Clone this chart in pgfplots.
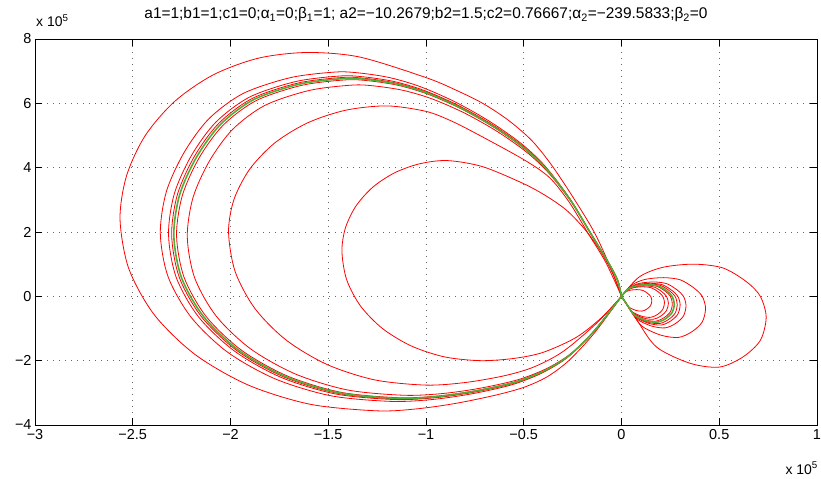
\documentclass[border=0pt]{standalone}
\usepackage{pgfplots}
\pgfplotsset{compat=1.18}
\usepackage{fontspec}
\setmainfont{Liberation Sans}
\definecolor{mred}{rgb}{1,0,0}
\definecolor{mgreen}{rgb}{0.30,0.69,0.22}
\begin{document}
\begin{tikzpicture}
\begin{axis}[name=ax, scale only axis, width=782bp, height=386bp,
  xmin=-3, xmax=1, ymin=-4, ymax=8,
  xtick={-3,-2.5,-2,-1.5,-1,-0.5,0,0.5,1},
  xticklabels={−3,−2.5,−2,−1.5,−1,−0.5,0,0.5,1},
  ytick={-4,-2,0,2,4,6,8},
  yticklabels={−4,−2,0,2,4,6,8},
  scaled ticks=false,
  tick align=inside, major tick length=7bp,
  tick style={black, line width=0.6bp},
  axis line style={black, line width=0.7bp},
  grid=major,
  grid style={black!60, line width=0.6bp, dash pattern=on 0.8bp off 5.2bp},
  ticklabel style={font=\fontsize{14.5}{16}\selectfont},
  xticklabel style={yshift=-1bp},
  every axis plot/.append style={smooth},
  clip=true]
% ---- left loops (red)
% A (outermost)
\addplot[mred, line width=0.8pt] coordinates {(0,0) (-0.06,0.95) (-0.14,2.0) (-0.25,3.1) (-0.36,4.1) (-0.46,4.85) (-0.58,5.48) (-0.71,6.0) (-0.85,6.42) (-1.0,6.8) (-1.34,7.44) (-1.61,7.58) (-1.857,7.404) (-2.088,6.886) (-2.285,6.063) (-2.437,4.99) (-2.532,3.741) (-2.565,2.4) (-2.52,0.857) (-2.389,-0.58) (-2.18,-1.814) (-1.908,-2.761) (-1.591,-3.357) (-1.25,-3.56) (-1.05,-3.5) (-0.85,-3.33) (-0.65,-3.08) (-0.5,-2.83) (-0.38,-2.5) (-0.27,-2.0) (-0.14,-1.15) (0,0)};
% B
\addplot[mred, line width=0.8pt] coordinates {(0,0) (-0.021,0.515) (-0.072,1.112) (-0.165,2.039) (-0.268,3.069) (-0.391,4.048) (-0.515,4.759) (-0.68,5.459) (-0.855,6.056) (-1.03,6.52) (-1.185,6.798) (-1.339,6.942) (-1.463,6.973) (-1.694,6.798) (-1.936,6.304) (-2.112,5.511) (-2.238,4.465) (-2.328,3.255) (-2.359,1.957) (-2.319,0.605) (-2.201,-0.654) (-2.015,-1.736) (-1.772,-2.565) (-1.488,-3.09) (-1.185,-3.265) (-0.979,-3.214) (-0.773,-3.039) (-0.567,-2.76) (-0.412,-2.4) (-0.278,-1.906) (-0.144,-1.112) (0,0)};
% bundle
\addplot[mred, line width=0.8pt] coordinates {(0,0) (-0.02,0.506) (-0.071,1.093) (-0.162,2.004) (-0.263,3.016) (-0.385,3.977) (-0.506,4.675) (-0.668,5.364) (-0.84,5.951) (-1.012,6.406) (-1.164,6.679) (-1.316,6.821) (-1.437,6.851) (-1.665,6.679) (-1.903,6.193) (-2.075,5.414) (-2.199,4.387) (-2.287,3.198) (-2.317,1.923) (-2.278,0.594) (-2.163,-0.643) (-1.979,-1.705) (-1.741,-2.52) (-1.462,-3.036) (-1.164,-3.208) (-0.961,-3.157) (-0.759,-2.985) (-0.557,-2.712) (-0.405,-2.358) (-0.273,-1.872) (-0.142,-1.093) (0,0)};
\addplot[mred, line width=0.8pt] coordinates {(0,0) (-0.02,0.503) (-0.07,1.085) (-0.161,1.99) (-0.261,2.995) (-0.382,3.95) (-0.503,4.643) (-0.663,5.327) (-0.834,5.909) (-1.005,6.362) (-1.156,6.633) (-1.307,6.774) (-1.427,6.804) (-1.653,6.633) (-1.889,6.151) (-2.06,5.377) (-2.184,4.357) (-2.271,3.176) (-2.301,1.91) (-2.262,0.59) (-2.148,-0.638) (-1.966,-1.693) (-1.729,-2.502) (-1.452,-3.015) (-1.156,-3.186) (-0.955,-3.136) (-0.754,-2.965) (-0.553,-2.693) (-0.402,-2.342) (-0.271,-1.859) (-0.141,-1.085) (0,0)};
\addplot[mred, line width=0.8pt] coordinates {(0,0) (-0.02,0.497) (-0.07,1.074) (-0.159,1.968) (-0.258,2.962) (-0.378,3.906) (-0.497,4.592) (-0.656,5.268) (-0.825,5.845) (-0.994,6.292) (-1.143,6.56) (-1.292,6.7) (-1.411,6.729) (-1.635,6.56) (-1.869,6.083) (-2.038,5.318) (-2.16,4.309) (-2.246,3.141) (-2.276,1.889) (-2.237,0.583) (-2.124,-0.631) (-1.944,-1.675) (-1.71,-2.475) (-1.436,-2.982) (-1.143,-3.151) (-0.944,-3.101) (-0.746,-2.932) (-0.547,-2.664) (-0.398,-2.316) (-0.268,-1.839) (-0.139,-1.074) (0,0)};
% D
\addplot[mred, line width=0.8pt] coordinates {(0,0) (-0.019,0.485) (-0.068,1.048) (-0.155,1.921) (-0.252,2.891) (-0.369,3.812) (-0.485,4.481) (-0.64,5.141) (-0.805,5.704) (-0.97,6.14) (-1.116,6.402) (-1.261,6.538) (-1.377,6.567) (-1.596,6.402) (-1.824,5.936) (-1.989,5.19) (-2.108,4.205) (-2.192,3.065) (-2.221,1.843) (-2.183,0.569) (-2.073,-0.616) (-1.897,-1.634) (-1.668,-2.415) (-1.402,-2.91) (-1.116,-3.075) (-0.922,-3.026) (-0.728,-2.862) (-0.534,-2.6) (-0.388,-2.26) (-0.262,-1.795) (-0.136,-1.048) (0,0)};
% E
\addplot[mred, line width=0.8pt] coordinates {(0,0) (-0.08,1.05) (-0.17,1.95) (-0.27,2.95) (-0.37,3.7) (-0.5,4.25) (-0.74,5.05) (-0.87,5.45) (-1.0,5.75) (-1.2,5.92) (-1.41,5.787) (-1.605,5.395) (-1.773,4.772) (-1.901,3.96) (-1.982,3.015) (-2.01,2.0) (-1.976,0.767) (-1.875,-0.38) (-1.714,-1.366) (-1.505,-2.122) (-1.262,-2.598) (-1.0,-2.76) (-0.8,-2.68) (-0.6,-2.47) (-0.45,-2.2) (-0.3,-1.72) (-0.13,-0.85) (0,0)};
% F (innermost)
\addplot[mred, line width=0.8pt] coordinates {(0,0) (-0.04,0.65) (-0.11,1.43) (-0.19,2.1) (-0.28,2.67) (-0.38,3.1) (-0.5,3.5) (-0.71,4.03) (-0.89,4.22) (-1.03,4.124) (-1.16,3.842) (-1.272,3.394) (-1.358,2.81) (-1.412,2.13) (-1.43,1.4) (-1.406,0.52) (-1.335,-0.3) (-1.222,-1.004) (-1.075,-1.544) (-0.904,-1.884) (-0.72,-2.0) (-0.55,-1.93) (-0.4,-1.74) (-0.23,-1.27) (-0.1,-0.65) (0,0)};
% ---- right loops (red)
\addplot[mred, line width=0.8pt] coordinates {(0,0) (0.09,0.6) (0.21,0.9) (0.37,1.0) (0.52,0.88) (0.64,0.45) (0.71,0.0) (0.74,-0.65) (0.71,-1.37) (0.62,-1.89) (0.5,-2.2) (0.35,-2.08) (0.18,-1.58) (0.08,-0.75) (0,0)};
\addplot[mred, line width=0.8pt] coordinates {(0,0) (0.052,0.348) (0.120,0.525) (0.215,0.581) (0.301,0.512) (0.370,0.262) (0.413,0) (0.43,-0.378) (0.413,-0.796) (0.361,-1.097) (0.292,-1.277) (0.202,-1.208) (0.103,-0.920) (0.047,-0.434) (0,0)};
\addplot[mred, line width=0.8pt] coordinates {(0,0) (0.040,0.267) (0.092,0.403) (0.165,0.446) (0.231,0.393) (0.284,0.201) (0.317,0) (0.33,-0.290) (0.317,-0.611) (0.277,-0.842) (0.224,-0.980) (0.155,-0.927) (0.079,-0.706) (0.036,-0.333) (0,0)};
\addplot[mred, line width=0.8pt] coordinates {(0,0) (0.036,0.243) (0.084,0.366) (0.15,0.405) (0.21,0.357) (0.258,0.183) (0.288,0) (0.30,-0.264) (0.288,-0.555) (0.252,-0.765) (0.204,-0.891) (0.141,-0.843) (0.072,-0.642) (0.033,-0.303) (0,0)};
\addplot[mred, line width=0.8pt] coordinates {(0,0) (0.034,0.231) (0.080,0.348) (0.143,0.385) (0.200,0.339) (0.245,0.174) (0.274,0) (0.285,-0.251) (0.274,-0.527) (0.239,-0.727) (0.194,-0.846) (0.134,-0.801) (0.068,-0.610) (0.031,-0.288) (0,0)};
\addplot[mred, line width=0.8pt] coordinates {(0,0) (0.031,0.211) (0.073,0.317) (0.13,0.351) (0.182,0.309) (0.224,0.159) (0.250,0) (0.26,-0.229) (0.250,-0.481) (0.218,-0.663) (0.177,-0.772) (0.122,-0.731) (0.062,-0.556) (0.029,-0.263) (0,0)};
\addplot[mred, line width=0.8pt] coordinates {(0,0) (0.029,0.194) (0.067,0.293) (0.12,0.324) (0.168,0.286) (0.206,0.146) (0.230,0) (0.24,-0.211) (0.230,-0.444) (0.202,-0.612) (0.163,-0.713) (0.113,-0.674) (0.058,-0.514) (0.026,-0.242) (0,0)};
\addplot[mred, line width=0.8pt] coordinates {(0,0) (0.026,0.178) (0.062,0.268) (0.11,0.297) (0.154,0.262) (0.189,0.134) (0.211,0) (0.22,-0.194) (0.211,-0.407) (0.185,-0.561) (0.150,-0.653) (0.103,-0.618) (0.053,-0.471) (0.024,-0.222) (0,0)};
\addplot[mred, line width=0.8pt] coordinates {(0,0) (0.019,0.126) (0.043,0.189) (0.078,0.209) (0.109,0.184) (0.133,0.095) (0.149,0) (0.155,-0.136) (0.149,-0.287) (0.130,-0.395) (0.105,-0.460) (0.073,-0.436) (0.037,-0.332) (0.017,-0.157) (0,0)};
% ---- green curve
\addplot[mgreen, line width=1.6pt] coordinates {(0,0) (-0.02,0.5) (-0.07,1.08) (-0.16,1.98) (-0.26,2.98) (-0.38,3.93) (-0.5,4.62) (-0.66,5.3) (-0.83,5.88) (-1.0,6.33) (-1.15,6.6) (-1.3,6.74) (-1.42,6.77) (-1.645,6.6) (-1.88,6.12) (-2.05,5.35) (-2.173,4.335) (-2.26,3.16) (-2.29,1.9) (-2.251,0.587) (-2.137,-0.635) (-1.956,-1.685) (-1.72,-2.49) (-1.445,-3.0) (-1.15,-3.17) (-0.95,-3.12) (-0.75,-2.95) (-0.55,-2.68) (-0.4,-2.33) (-0.27,-1.85) (-0.14,-1.08) (0,0)};
\addplot[mgreen, line width=1.6pt] coordinates {(0,0) (0.032,0.219) (0.076,0.329) (0.135,0.365) (0.189,0.321) (0.232,0.165) (0.259,0) (0.27,-0.238) (0.259,-0.500) (0.227,-0.689) (0.184,-0.802) (0.127,-0.759) (0.065,-0.578) (0.030,-0.273) (0,0)};
\end{axis}
\node[font=\fontsize{15.5}{18}\selectfont] at ([yshift=24bp]ax.north) {a1=1;b1=1;c1=0;α\textsubscript{1}=0;β\textsubscript{1}=1; a2=−10.2679;b2=1.5;c2=0.76667;α\textsubscript{2}=−239.5833;β\textsubscript{2}=0};
\node[font=\fontsize{14}{16}\selectfont, anchor=base west, inner sep=0pt] at ([xshift=1bp,yshift=12bp]ax.north west) {x 10\textsuperscript{5}};
\node[font=\fontsize{14}{16}\selectfont, anchor=base east, inner sep=0pt] at ([xshift=1bp,yshift=-49bp]ax.south east) {x 10\textsuperscript{5}};
\pgfresetboundingbox
\path[use as bounding box] ([xshift=-35bp,yshift=-54bp]ax.south west) rectangle ([xshift=4bp,yshift=39bp]ax.north east);
\end{tikzpicture}
\end{document}
